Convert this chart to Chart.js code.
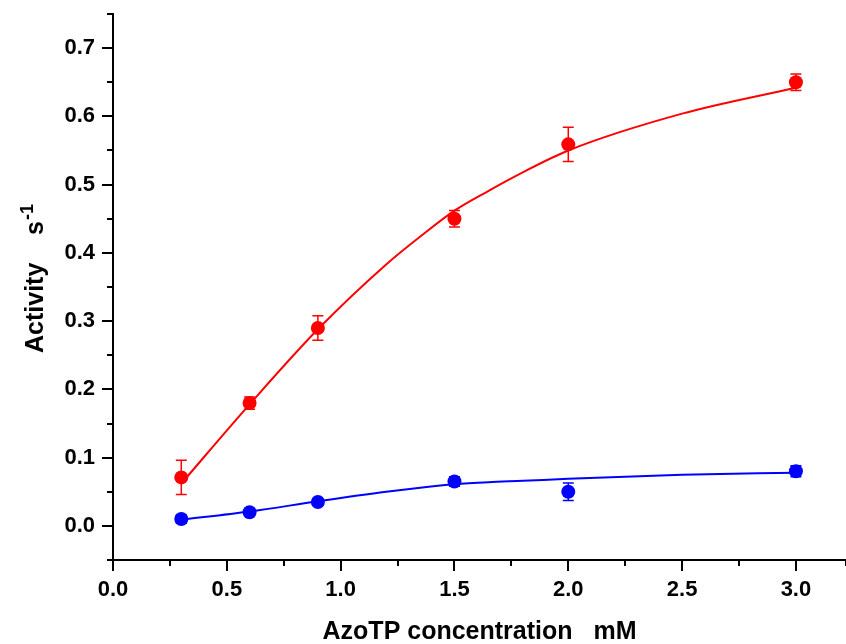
<!DOCTYPE html>
<html>
<head>
<meta charset="utf-8">
<script src="https://cdn.jsdelivr.net/npm/chart.js@4.4.0/dist/chart.umd.min.js"></script>
<style>
  body { margin: 0; background: #fff; }
  #wrap { width: 846px; height: 644px; }
</style>
</head>
<body>
<div id="wrap"><canvas id="graph"></canvas></div>
<script>
// measured points (mean and error)
const conc = [0.3, 0.6, 0.9, 1.5, 2.0, 3.0];
const redVals = [0.071, 0.18, 0.29, 0.45, 0.559, 0.65];
const redErr = [0.025, 0.009, 0.018, 0.012, 0.025, 0.012];
const blueVals = [0.010, 0.020, 0.035, 0.065, 0.050, 0.080];
const blueErr = [0.006, 0.005, 0.004, 0.007, 0.013, 0.008];

// fitted curves
const fitX = [0.3, 0.6, 0.9, 1.2, 1.35, 1.5, 1.65, 1.8, 2.0, 2.5, 3.0];
const redFit = [0.062, 0.178, 0.288, 0.383, 0.424, 0.462, 0.491, 0.518, 0.550, 0.604, 0.642];
const blueFit = [0.009, 0.021, 0.036, 0.050, 0.056, 0.061, 0.064, 0.066, 0.069, 0.075, 0.078];

const FONT = '"Liberation Sans", Arial, sans-serif';

const pts = (xs, ys) => xs.map((x, i) => ({ x: x, y: ys[i] }));

const errorBars = {
    id: 'errorBars',
    beforeDatasetsDraw(chart) {
        const c = chart.ctx, ys = chart.scales.y;
        chart.data.datasets.forEach((ds, di) => {
            if (!ds.errors) return;
            const meta = chart.getDatasetMeta(di);
            c.save();
            c.strokeStyle = ds.backgroundColor;
            c.lineWidth = 1.5;
            meta.data.forEach((p, i) => {
                const v = ds.data[i].y, e = ds.errors[i];
                const t = ys.getPixelForValue(v + e), b = ys.getPixelForValue(v - e);
                c.beginPath();
                c.moveTo(p.x, t); c.lineTo(p.x, b);
                c.moveTo(p.x - 5.5, t); c.lineTo(p.x + 5.5, t);
                c.moveTo(p.x - 5.5, b); c.lineTo(p.x + 5.5, b);
                c.stroke();
            });
            c.restore();
        });
    }
};

const axisTicks = {
    id: 'axisTicks',
    afterDraw(chart) {
        const c = chart.ctx, xs = chart.scales.x, ys = chart.scales.y;
        c.save();
        c.strokeStyle = '#000';
        c.lineWidth = 2;
        c.beginPath();
        xs.ticks.forEach(t => {
            const px = Math.round(xs.getPixelForValue(t.value));
            const len = t.label ? 11 : 6;
            c.moveTo(px, xs.top); c.lineTo(px, xs.top + len);
        });
        ys.ticks.forEach(t => {
            const py = Math.round(ys.getPixelForValue(t.value));
            const len = t.label ? 11 : 6;
            c.moveTo(ys.right, py); c.lineTo(ys.right - len, py);
        });
        c.stroke();

        // y title with superscript
        c.translate(43, 353);
        c.rotate(-Math.PI / 2);
        c.fillStyle = '#000';
        c.textAlign = 'left';
        c.textBaseline = 'alphabetic';
        c.font = 'bold 25px ' + FONT;
        const main = 'Activity    s';
        c.fillText(main, 0, 0);
        const w = c.measureText(main).width;
        c.font = 'bold 18px ' + FONT;
        c.fillText('-1', w + 1, -10);
        c.restore();
    }
};

const ctx = document.getElementById('graph').getContext('2d');
const myChart = new Chart(ctx, {
    type: 'scatter',
    data: {
        datasets: [{
            data: pts(conc, redVals),
            errors: redErr,
            backgroundColor: '#ff0000',
            borderWidth: 0,
            pointRadius: 7,
            showLine: false
        }, {
            data: pts(conc, blueVals),
            errors: blueErr,
            backgroundColor: '#0000ff',
            borderWidth: 0,
            pointRadius: 7,
            showLine: false
        }, {
            data: pts(fitX, redFit),
            showLine: true,
            borderColor: '#ff0000',
            borderWidth: 2,
            pointRadius: 0,
            cubicInterpolationMode: 'monotone'
        }, {
            data: pts(fitX, blueFit),
            showLine: true,
            borderColor: '#0000ff',
            borderWidth: 2,
            pointRadius: 0,
            cubicInterpolationMode: 'monotone'
        }]
    },
    options: {
        responsive: true,
        maintainAspectRatio: false,
        animation: false,
        layout: { autoPadding: false, padding: { top: 14, right: 0, left: 0, bottom: 0 } },
        plugins: { legend: { display: false }, tooltip: { enabled: false } },
        scales: {
            x: {
                type: 'linear',
                min: 0,
                max: 3.22,
                bounds: 'data',
                grid: { display: false, drawTicks: false },
                border: { color: '#000', width: 2 },
                ticks: {
                    stepSize: 0.25,
                    includeBounds: false,
                    autoSkip: false,
                    maxRotation: 0,
                    padding: 17,
                    color: '#000',
                    font: { family: FONT, size: 22, weight: 'bold' },
                    callback: v => (Math.abs(v * 2 - Math.round(v * 2)) < 1e-6 && v < 3.01) ? (Math.round(v * 10) / 10).toFixed(1) : ''
                },
                title: {
                    display: true,
                    text: 'AzoTP concentration   mM',
                    color: '#000',
                    padding: { top: 0, bottom: -3 },
                    font: { family: FONT, size: 25, weight: 'bold' }
                },
                afterFit: s => { s.height = 84; s.paddingLeft = 0; s.paddingRight = 0; }
            },
            y: {
                min: -0.05,
                max: 0.75,
                bounds: 'data',
                grid: { display: false, drawTicks: false },
                border: { color: '#000', width: 2 },
                ticks: {
                    stepSize: 0.05,
                    includeBounds: false,
                    autoSkip: false,
                    padding: 18,
                    color: '#000',
                    font: { family: FONT, size: 22, weight: 'bold' },
                    callback: v => (Math.abs(v * 10 - Math.round(v * 10)) < 1e-6 && v > -0.01 && v < 0.71) ? (Math.round(v * 10) / 10).toFixed(1) : ''
                },
                afterFit: s => { s.width = 113; s.paddingTop = 0; s.paddingBottom = 0; }
            }
        }
    },
    plugins: [errorBars, axisTicks]
});
</script>
</body>
</html>
